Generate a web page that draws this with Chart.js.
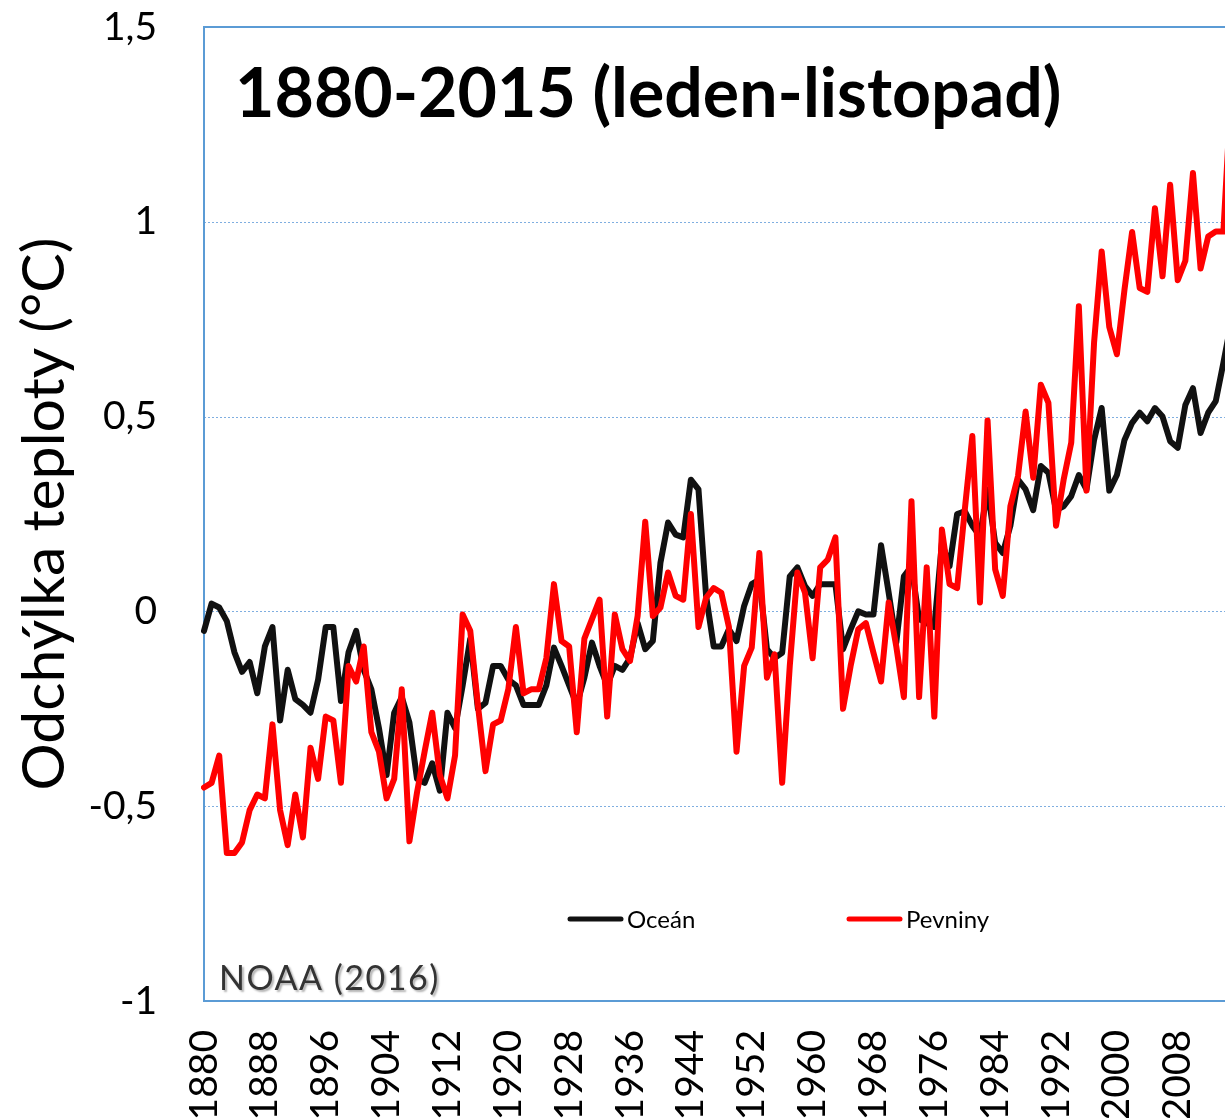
<!DOCTYPE html>
<html lang="cs">
<head>
<meta charset="utf-8">
<title>Odchylka teploty 1880-2015</title>
<script src="https://cdn.jsdelivr.net/npm/chart.js@4.4.1/dist/chart.umd.min.js"></script>
<style>
  html, body { margin: 0; padding: 0; background: #fff; overflow: hidden; }
  #wrap { width: 1225px; height: 1118px; overflow: hidden; }
  canvas { display: block; }
</style>
</head>
<body>
<div id="wrap"><canvas id="chartTeploty" width="1231" height="1118"></canvas></div>
<script>
const firstYear = 1880;
const lastYear = 2015;
const years = [];
for (let y = firstYear; y <= lastYear; y++) years.push(y);

// roky s popiskem na ose x
const xTickYears = [1880, 1888, 1896, 1904, 1912, 1920, 1928, 1936, 1944, 1952, 1960, 1968, 1976, 1984, 1992, 2000, 2008];

// odchylka teploty oceanu (°C), 1880-2015
const oceanValues = [
  -0.05, 0.02, 0.01, -0.025, -0.105, -0.155, -0.13, -0.21, -0.09, -0.04,
  -0.28, -0.15, -0.225, -0.24, -0.26, -0.175, -0.04, -0.04, -0.23, -0.105,
  -0.05, -0.15, -0.2, -0.3, -0.42, -0.26, -0.22, -0.285, -0.43, -0.44,
  -0.39, -0.46, -0.26, -0.3, -0.19, -0.07, -0.25, -0.235, -0.14, -0.14,
  -0.175, -0.19, -0.24, -0.24, -0.24, -0.19, -0.093, -0.14, -0.19, -0.24,
  -0.17, -0.08, -0.14, -0.19, -0.14, -0.15, -0.12, -0.03, -0.097, -0.076,
  0.125, 0.228, 0.197, 0.19, 0.338, 0.313, 0.04, -0.09, -0.09, -0.046,
  -0.076, 0.014, 0.07, 0.082, -0.097, -0.12, -0.106, 0.09, 0.113, 0.065,
  0.04, 0.07, 0.07, 0.07, -0.097, -0.046, 0.0, -0.008, -0.008, 0.17,
  0.048, -0.08, 0.09, 0.116, -0.02, -0.03, -0.04, 0.176, 0.116, 0.25,
  0.257, 0.22, 0.193, 0.313, 0.176, 0.15, 0.22, 0.338, 0.313, 0.26,
  0.373, 0.356, 0.26, 0.27, 0.296, 0.35, 0.313, 0.44, 0.522, 0.31,
  0.35, 0.44, 0.484, 0.51, 0.488, 0.522, 0.5, 0.437, 0.42, 0.53,
  0.573, 0.458, 0.51, 0.54, 0.638, 0.74,
];

// odchylka teploty pevnin (°C), 1880-2015
const landValues = [
  -0.452, -0.44, -0.37, -0.62, -0.62, -0.593, -0.51, -0.47, -0.48, -0.29,
  -0.51, -0.6, -0.47, -0.58, -0.35, -0.43, -0.27, -0.28, -0.44, -0.14,
  -0.18, -0.09, -0.31, -0.36, -0.48, -0.43, -0.2, -0.59, -0.465, -0.36,
  -0.26, -0.42, -0.48, -0.37, -0.008, -0.05, -0.24, -0.41, -0.29, -0.28,
  -0.2, -0.04, -0.21, -0.2, -0.2, -0.12, 0.07, -0.076, -0.09, -0.31,
  -0.07, -0.02, 0.03, -0.27, -0.008, -0.097, -0.127, -0.012, 0.23, -0.012,
  0.01, 0.1, 0.04, 0.03, 0.25, -0.04, 0.035, 0.06, 0.048, -0.04,
  -0.36, -0.14, -0.093, 0.15, -0.17, -0.11, -0.44, -0.14, 0.1, 0.048,
  -0.12, 0.113, 0.133, 0.19, -0.25, -0.14, -0.046, -0.03, -0.106, -0.18,
  0.023, -0.09, -0.22, 0.283, -0.22, 0.113, -0.27, 0.21, 0.07, 0.06,
  0.26, 0.45, 0.023, 0.49, 0.108, 0.04, 0.27, 0.347, 0.513, 0.343,
  0.582, 0.535, 0.22, 0.338, 0.433, 0.783, 0.31, 0.69, 0.924, 0.73,
  0.66, 0.826, 0.974, 0.83, 0.82, 1.035, 0.86, 1.095, 0.85, 0.9,
  1.125, 0.88, 0.962, 0.975, 0.975, 1.33,
];

const chartTitle = '1880-2015 (leden-listopad)';
const yAxisTitle = 'Odchýlka teploty (°C)';
const sourceText = 'NOAA (2016)';

const FONT = 'Lato, "Open Sans", sans-serif';
const FRAME_COLOR = '#5b9bd5';

// ramecek grafu + teckovana mrizka
const ramecek = {
  id: 'ramecek',
  beforeDatasetsDraw(chart) {
    const { ctx, chartArea: a } = chart;
    const { y } = chart.scales;
    ctx.save();
    ctx.strokeStyle = '#7faee0';
    ctx.lineWidth = 1;
    ctx.setLineDash([2, 2]);
    y.ticks.forEach((t) => {
      if (t.value <= y.min || t.value >= y.max) return;
      const py = Math.round(y.getPixelForValue(t.value)) + 0.5;
      ctx.beginPath();
      ctx.moveTo(a.left, py);
      ctx.lineTo(a.right, py);
      ctx.stroke();
    });
    ctx.setLineDash([]);
    ctx.strokeStyle = FRAME_COLOR;
    ctx.lineWidth = 2;
    ctx.strokeRect(a.left, a.top, a.right - a.left, a.bottom - a.top);
    ctx.restore();
  },
};

// legenda uvnitr grafu
const legendaUvnitr = {
  id: 'legendaUvnitr',
  afterDatasetsDraw(chart) {
    const { ctx } = chart;
    const startX = [568, 847];
    const ly = 919;
    ctx.save();
    ctx.font = `24px ${FONT}`;
    ctx.textBaseline = 'middle';
    ctx.lineCap = 'round';
    chart.data.datasets.forEach((ds, i) => {
      const x = startX[i];
      ctx.strokeStyle = ds.borderColor;
      ctx.lineWidth = 5;
      ctx.beginPath();
      ctx.moveTo(x + 2, ly);
      ctx.lineTo(x + 53, ly);
      ctx.stroke();
      ctx.fillStyle = '#000';
      ctx.fillText(ds.label, x + 59, ly + 1);
    });
    ctx.restore();
  },
};

// nadpis a zdroj
const texty = {
  id: 'texty',
  afterDraw(chart) {
    const { ctx } = chart;
    ctx.save();
    ctx.fillStyle = '#000';
    ctx.textBaseline = 'alphabetic';
    ctx.font = `bold 68px ${FONT}`;
    ctx.fillText(chartTitle, 235, 117);

    ctx.font = `34px ${FONT}`;
    ctx.letterSpacing = '1.5px';
    ctx.shadowColor = 'rgba(0,0,0,0.3)';
    ctx.shadowOffsetX = 2;
    ctx.shadowOffsetY = 2;
    ctx.shadowBlur = 2;
    ctx.fillStyle = '#333';
    ctx.fillText(sourceText, 219, 990);
    ctx.restore();
  },
};

const ctx = document.getElementById('chartTeploty').getContext('2d');

// eslint-disable-next-line no-undef
const chartInstance = new Chart(ctx, {
  type: 'line',
  data: {
    labels: years,
    datasets: [
      {
        label: 'Oceán',
        data: oceanValues,
        borderColor: '#111111',
        borderWidth: 6,
        order: 2,
      },
      {
        label: 'Pevniny',
        data: landValues,
        borderColor: '#ff0000',
        borderWidth: 6,
        order: 1,
      },
    ],
  },
  options: {
    responsive: false,
    animation: false,
    layout: { padding: { top: 27, right: 0, bottom: 0, left: 0 } },
    elements: {
      point: { radius: 0, hoverRadius: 0 },
      line: { tension: 0, borderJoinStyle: 'round', borderCapStyle: 'round' },
    },
    plugins: {
      legend: { display: false },
      tooltip: { enabled: false },
    },
    scales: {
      x: {
        type: 'category',
        grid: { display: false, drawTicks: false },
        border: { display: false },
        ticks: {
          autoSkip: false,
          minRotation: 90,
          maxRotation: 90,
          padding: 29,
          color: '#000',
          font: { family: FONT, size: 39 },
          callback(value) {
            const yr = this.getLabelForValue(value);
            return xTickYears.includes(Number(yr)) ? String(yr) : '';
          },
        },
        afterFit(scale) {
          scale.height = 117;
          scale.paddingLeft = 0;
          scale.paddingRight = 0;
          scale.paddingTop = 0;
          scale.paddingBottom = 0;
        },
      },
      y: {
        min: -1,
        max: 1.5,
        grid: { display: false, drawTicks: false },
        border: { display: false },
        ticks: {
          stepSize: 0.5,
          padding: 47,
          color: '#000',
          font: { family: FONT, size: 39 },
          callback: (v) => String(v).replace('.', ','),
        },
        title: {
          display: true,
          text: yAxisTitle,
          color: '#000',
          font: { family: FONT, size: 59 },
          padding: { top: 10, bottom: 0 },
        },
        afterFit(scale) {
          scale.width = 204;
          scale.paddingTop = 0;
          scale.paddingBottom = 0;
        },
      },
    },
  },
  plugins: [ramecek, legendaUvnitr, texty],
});
</script>
</body>
</html>
